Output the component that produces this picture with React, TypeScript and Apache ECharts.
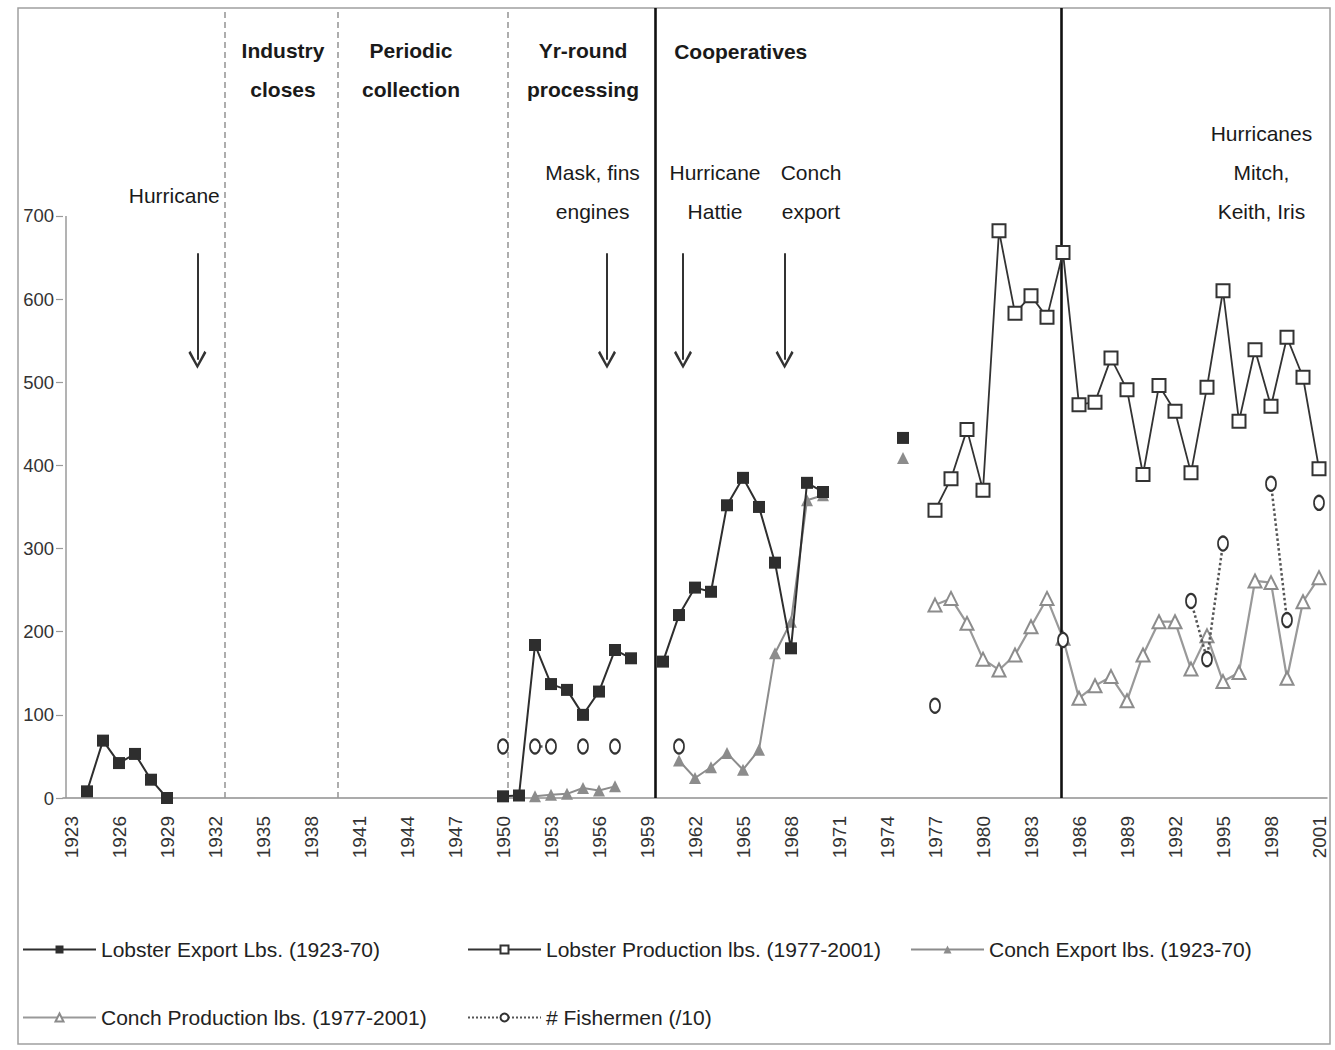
import React, { useEffect, useRef } from "react";
import * as echarts from "echarts";

// ---------- data ----------
const years: number[] = [
  1923, 1924, 1925, 1926, 1927, 1928, 1929, 1930, 1931, 1932, 1933, 1934, 1935, 1936, 1937, 1938,
  1939, 1940, 1941, 1942, 1943, 1944, 1945, 1946, 1947, 1948, 1949, 1950, 1951, 1952, 1953, 1954,
  1955, 1956, 1957, 1958, 1959, 1960, 1961, 1962, 1963, 1964, 1965, 1966, 1967, 1968, 1969, 1970,
  1971, 1972, 1973, 1974, 1975, 1976, 1977, 1978, 1979, 1980, 1981, 1982, 1983, 1984, 1985, 1986,
  1987, 1988, 1989, 1990, 1991, 1992, 1993, 1994, 1995, 1996, 1997, 1998, 1999, 2000, 2001,
];
const yTickValues = [0, 100, 200, 300, 400, 500, 600, 700];

const lobsterExport: [number, number][] = [
  [1924, 8], [1925, 69], [1926, 42], [1927, 53], [1928, 22], [1929, 0],
  [1950, 2], [1951, 3], [1952, 184], [1953, 137], [1954, 130], [1955, 100], [1956, 128], [1957, 178], [1958, 168],
  [1960, 164], [1961, 220], [1962, 253], [1963, 248], [1964, 352], [1965, 385], [1966, 350], [1967, 283],
  [1968, 180], [1969, 379], [1970, 368],
  [1975, 433],
];
const conchExport: [number, number][] = [
  [1952, 2], [1953, 4], [1954, 5], [1955, 12], [1956, 9], [1957, 14],
  [1961, 45], [1962, 24], [1963, 37], [1964, 54], [1965, 34], [1966, 58], [1967, 174], [1968, 212],
  [1969, 358], [1970, 364],
  [1975, 409],
];
const lobsterProduction: [number, number][] = [
  [1977, 346], [1978, 384], [1979, 443], [1980, 370], [1981, 682], [1982, 583], [1983, 604], [1984, 578],
  [1985, 656], [1986, 473], [1987, 476], [1988, 529], [1989, 491], [1990, 389], [1991, 496], [1992, 465],
  [1993, 391], [1994, 494], [1995, 610], [1996, 453], [1997, 539], [1998, 471], [1999, 554], [2000, 506],
  [2001, 396],
];
const conchProduction: [number, number][] = [
  [1977, 232], [1978, 240], [1979, 210], [1980, 167], [1981, 154], [1982, 172], [1983, 206], [1984, 240],
  [1985, 192], [1986, 120], [1987, 135], [1988, 146], [1989, 117], [1990, 172], [1991, 212], [1992, 212],
  [1993, 155], [1994, 195], [1995, 140], [1996, 151], [1997, 261], [1998, 259], [1999, 144], [2000, 236],
  [2001, 265],
];
const fishermen: [number, number][] = [
  [1950, 62], [1952, 62], [1953, 62], [1955, 62], [1957, 62], [1961, 62],
  [1977, 111], [1985, 190], [1993, 237], [1994, 167], [1995, 306], [1998, 378], [1999, 214], [2001, 355],
];

const seriesNames = [
  "Lobster Export Lbs. (1923-70)",
  "Lobster Production lbs. (1977-2001)",
  "Conch Export lbs. (1923-70)",
  "Conch Production lbs. (1977-2001)",
  "# Fishermen (/10)",
];

// period boundaries (in years) and event arrows
const dashedLines = [1932.6, 1939.65, 1950.3];
const solidLines = [1959.5, 1984.9];
const arrows: { year: number; from: number; to: number }[] = [
  { year: 1930.9, from: 655, to: 527 },
  { year: 1956.5, from: 655, to: 527 },
  { year: 1961.25, from: 655, to: 527 },
  { year: 1967.6, from: 655, to: 527 },
];
const annotations: { text: string; year: number; value: number; align: string; bold: boolean }[] = [
  { text: "Hurricane", year: 1932.3, value: 724, align: "right", bold: false },
  { text: "Industry\ncloses", year: 1936.25, value: 875, align: "center", bold: true },
  { text: "Periodic\ncollection", year: 1944.25, value: 875, align: "center", bold: true },
  { text: "Yr-round\nprocessing", year: 1955.0, value: 875, align: "center", bold: true },
  { text: "Cooperatives", year: 1960.7, value: 898, align: "left", bold: true },
  { text: "Mask, fins\nengines", year: 1955.6, value: 729, align: "center", bold: false },
  { text: "Hurricane\nHattie", year: 1963.25, value: 729, align: "center", bold: false },
  { text: "Conch\nexport", year: 1969.25, value: 729, align: "center", bold: false },
  { text: "Hurricanes\nMitch,\nKeith, Iris", year: 1997.4, value: 752, align: "center", bold: false },
];

const FONT = '"Liberation Sans", Arial, Helvetica, sans-serif';
const CHEVRON = "path://M5,0 L10,8.6 L8.9,9.6 L5,2.6 L1.1,9.6 L0,8.6 Z";

function toSeries(points: [number, number][]) {
  const m = new Map(points);
  return years.map((y) => (m.has(y) ? (m.get(y) as number) : null));
}

export default function App() {
  const ref = useRef<HTMLDivElement>(null);

  useEffect(() => {
    document.body.style.margin = "0";
    if (!ref.current) return;
    const chart = echarts.init(ref.current, undefined, { renderer: "svg" });

    const markData: any[] = [];
    dashedLines.forEach((x) =>
      markData.push({ xAxis: x, lineStyle: { color: "#9a9a9a", width: 1.6, type: [6, 4] } })
    );
    solidLines.forEach((x) =>
      markData.push({ xAxis: x, lineStyle: { color: "#111", width: 2.6, type: "solid" } })
    );
    arrows.forEach((a) =>
      markData.push([
        { coord: [a.year, a.from], symbol: "none", lineStyle: { color: "#333", width: 2, type: "solid" } },
        { coord: [a.year, a.to], symbol: CHEVRON, symbolSize: 18 },
      ])
    );
    // y axis line (0 - 700)
    markData.push([
      { coord: [1922.7, 0], symbol: "none", lineStyle: { color: "#9a9a9a", width: 1.5, type: "solid" } },
      { coord: [1922.7, 700], symbol: "none" },
    ]);

    const legendCommon = {
      padding: 0,
      itemWidth: 73,
      itemHeight: 10,
      selectedMode: false,
      textStyle: { fontSize: 21, color: "#222", fontFamily: FONT },
    };

    const lineCommon = {
      type: "line",
      connectNulls: false,
      showAllSymbol: true,
    };

    const option: any = {
      animation: false,
      backgroundColor: "#ffffff",
      textStyle: { fontFamily: FONT },
      grid: { left: 63, right: 8, top: 8, bottom: 252, containLabel: false },
      legend: [
        { ...legendCommon, data: [seriesNames[0]], left: 22, top: 939 },
        { ...legendCommon, data: [seriesNames[1]], left: 467, top: 939 },
        { ...legendCommon, data: [seriesNames[2]], left: 910, top: 939 },
        { ...legendCommon, data: [seriesNames[3]], left: 22, top: 1007 },
        { ...legendCommon, data: [seriesNames[4]], left: 467, top: 1007 },
      ],
      xAxis: [
        {
          type: "category",
          data: years.map(String),
          boundaryGap: true,
          axisLine: { lineStyle: { color: "#8f8f8f", width: 1.5 } },
          axisTick: { interval: 0, length: 7, lineStyle: { color: "#8f8f8f", width: 1.2 } },
          axisLabel: { interval: 2, rotate: 90, margin: 18, fontSize: 19, color: "#333", fontFamily: FONT },
          splitLine: { show: false },
        },
        { type: "value", min: 1922.5, max: 2001.5, show: false },
      ],
      yAxis: {
        type: "value",
        min: 0,
        max: 950,
        interval: 50,
        axisLine: { show: false },
        axisTick: { show: true, length: 7, customValues: yTickValues, lineStyle: { color: "#9a9a9a", width: 1.2 } },
        axisLabel: {
          customValues: yTickValues,
          fontSize: 18.5,
          margin: 9,
          color: "#333",
          fontFamily: FONT,
          formatter: (v: number) => (v <= 700 && v % 100 === 0 ? String(v) : ""),
        },
        splitLine: { show: false },
      },
      series: [
        {
          ...lineCommon,
          name: seriesNames[0],
          data: toSeries(lobsterExport),
          symbol: "rect",
          symbolSize: 12,
          itemStyle: { color: "#2e2e2e" },
          lineStyle: { color: "#2e2e2e", width: 2 },
          z: 6,
        },
        {
          ...lineCommon,
          name: seriesNames[1],
          data: toSeries(lobsterProduction),
          symbol: "emptyRect",
          symbolSize: 13,
          itemStyle: { color: "#333", borderWidth: 1.6 },
          lineStyle: { color: "#333", width: 1.8 },
          z: 5,
        },
        {
          ...lineCommon,
          name: seriesNames[2],
          data: toSeries(conchExport),
          symbol: "triangle",
          symbolSize: 12,
          itemStyle: { color: "#8c8c8c" },
          lineStyle: { color: "#8c8c8c", width: 2 },
          z: 5,
        },
        {
          ...lineCommon,
          name: seriesNames[3],
          data: toSeries(conchProduction),
          symbol: "emptyTriangle",
          symbolSize: 13,
          itemStyle: { color: "#8c8c8c", borderWidth: 1.6 },
          lineStyle: { color: "#999", width: 2.2 },
          z: 4,
        },
        {
          ...lineCommon,
          name: seriesNames[4],
          data: toSeries(fishermen),
          symbol: "emptyCircle",
          symbolSize: [10, 14],
          itemStyle: { color: "#333", borderWidth: 1.5 },
          lineStyle: { color: "#555", width: 2.5, type: "dotted" },
          z: 7,
        },
        {
          name: "markers",
          type: "line",
          xAxisIndex: 1,
          yAxisIndex: 0,
          data: [],
          silent: true,
          z: 3,
          markLine: {
            silent: true,
            symbol: ["none", "none"],
            label: { show: false },
            emphasis: { disabled: true },
            data: markData,
          },
        },
      ],
    };
    chart.setOption(option);

    const graphics: any[] = [
      {
        type: "rect",
        shape: { x: 18, y: 8, width: 1312, height: 1036 },
        style: { fill: "none", stroke: "#a0a0a0", lineWidth: 1.5 },
        silent: true,
      },
    ];
    annotations.forEach((a) => {
      const p = chart.convertToPixel({ xAxisIndex: 1, yAxisIndex: 0 } as any, [a.year, a.value]) as number[];
      graphics.push({
        type: "text",
        x: p[0],
        y: p[1],
        silent: true,
        style: {
          text: a.text,
          align: a.align,
          verticalAlign: "middle",
          lineHeight: 39,
          fontSize: 21,
          fontWeight: a.bold ? "bold" : "normal",
          fontFamily: FONT,
          fill: "#1a1a1a",
        },
      });
    });
    chart.setOption({ graphic: graphics });

    return () => chart.dispose();
  }, []);

  return <div ref={ref} style={{ width: 1335, height: 1050 }} />;
}
